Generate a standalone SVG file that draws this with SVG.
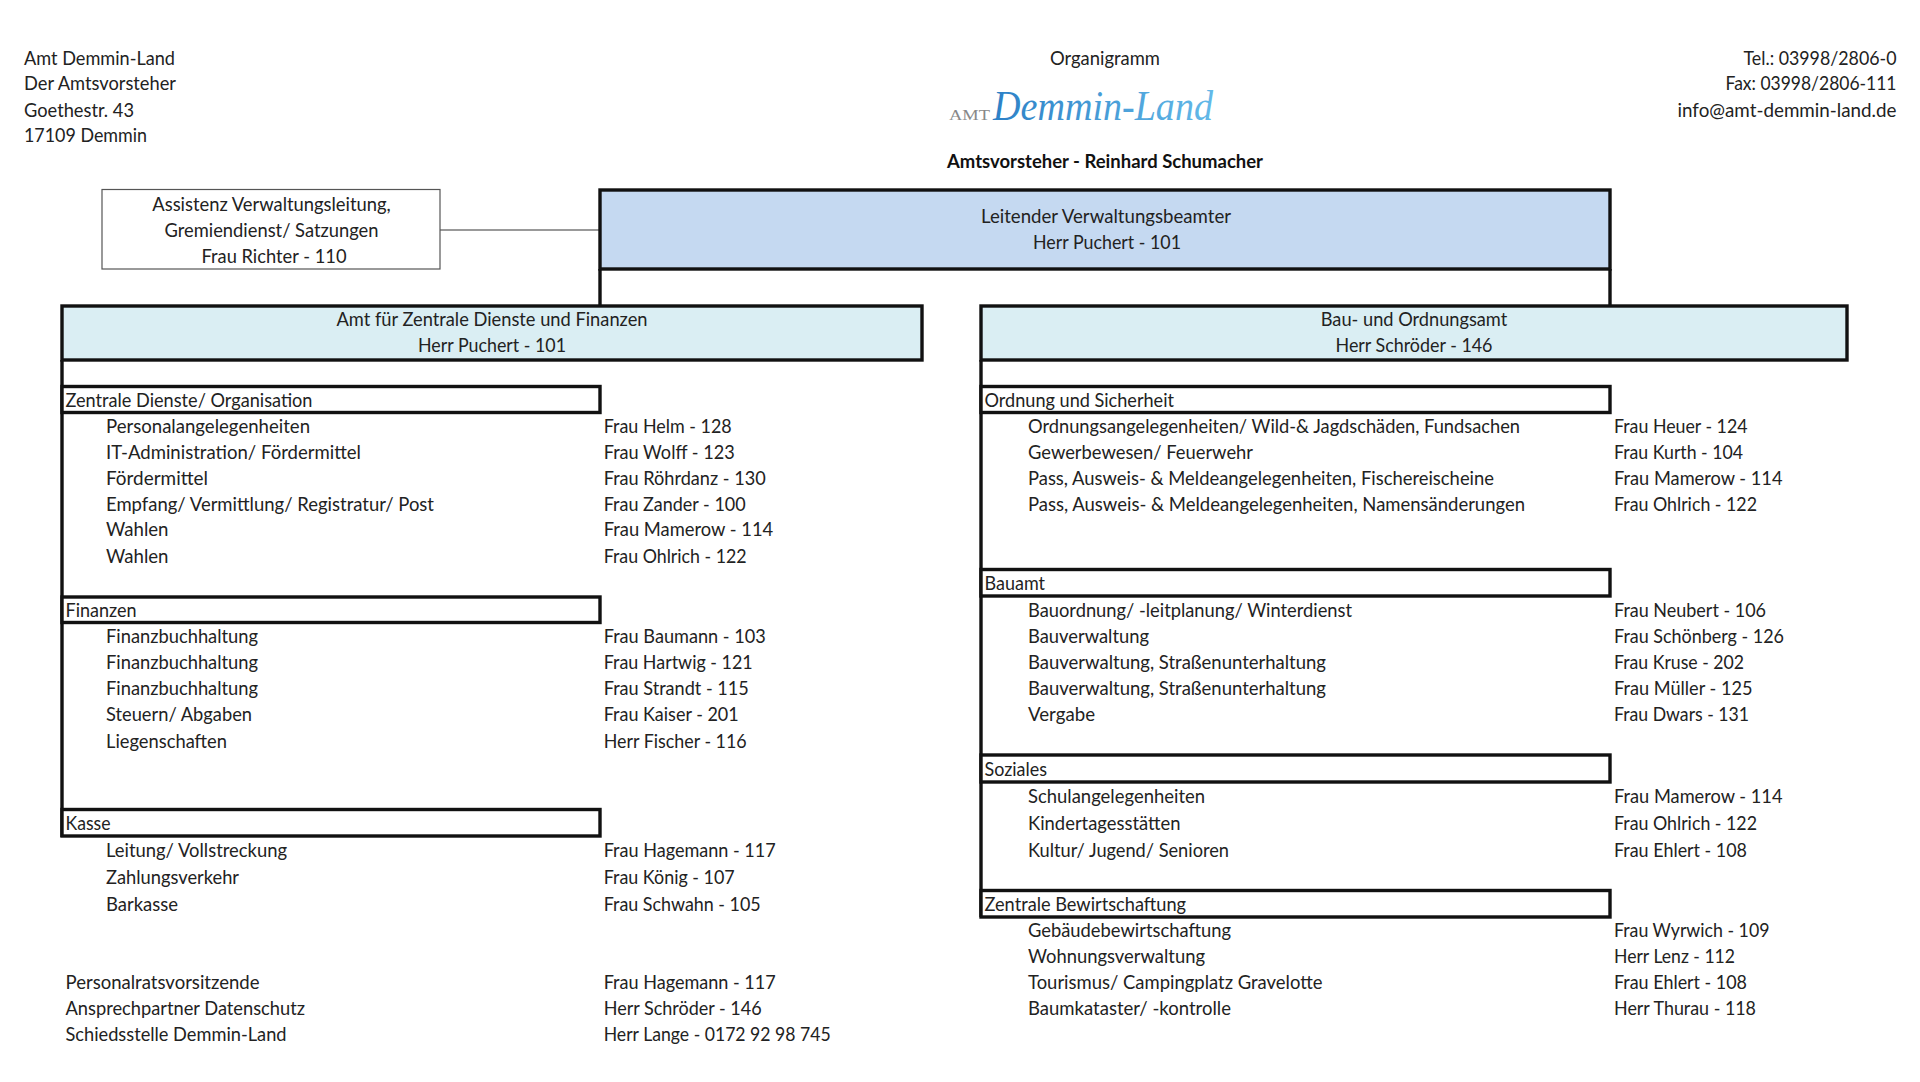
<svg xmlns="http://www.w3.org/2000/svg" width="1920" height="1082" viewBox="0 0 1920 1082">
<style>
text{font-family:"Lato","Carlito","Open Sans",sans-serif;font-size:18.300px;fill:#222}
.m{text-anchor:middle}.e{text-anchor:end}
.b{stroke:#111;stroke-width:3.400;fill:#fff}
.l{stroke:#111;stroke-width:3.400;fill:none}
</style>
<defs><linearGradient id="g" x1="0" x2="1" y1="0" y2="0"><stop offset="0" stop-color="#2c80c6"/><stop offset="1" stop-color="#63b9e8"/></linearGradient></defs>
<rect width="1920" height="1082" fill="#fff"/>
<g id="connectors">
<path d="M440 230H600" stroke="#777" stroke-width="1.300" fill="none"/>
<path class="l" d="M600 269V306M1610 269V306M62 360V837M981 360V917"/>
</g>
<g id="header-left"><text x="24" y="65" textLength="151" lengthAdjust="spacingAndGlyphs">Amt Demmin-Land</text><text x="24" y="90" textLength="152" lengthAdjust="spacingAndGlyphs">Der Amtsvorsteher</text><text x="24" y="116.500" textLength="110" lengthAdjust="spacingAndGlyphs">Goethestr. 43</text><text x="24" y="142" textLength="123" lengthAdjust="spacingAndGlyphs">17109 Demmin</text></g>
<g id="header-center"><text class="m" x="1105" y="64.500" textLength="110" lengthAdjust="spacingAndGlyphs">Organigramm</text>
<text x="949" y="120" textLength="41" lengthAdjust="spacingAndGlyphs" style="font-family:'Liberation Serif',serif;font-size:15px;fill:#888">AMT</text>
<text x="993" y="120" textLength="220" lengthAdjust="spacingAndGlyphs" style="font-family:'Liberation Serif',serif;font-style:italic;font-size:43px;fill:url(#g)">Demmin-Land</text>
<text class="m" x="1105" y="168" textLength="316" lengthAdjust="spacingAndGlyphs" style="font-weight:700;fill:#111">Amtsvorsteher - Reinhard Schumacher</text></g>
<g id="header-right"><text class="e" x="1896.500" y="65" textLength="153" lengthAdjust="spacingAndGlyphs">Tel.: 03998/2806-0</text><text class="e" x="1896.500" y="90" textLength="171" lengthAdjust="spacingAndGlyphs">Fax: 03998/2806-111</text><text class="e" x="1896.500" y="116.500" textLength="219" lengthAdjust="spacingAndGlyphs">info@amt-demmin-land.de</text></g>
<g id="assistenz"><rect x="102" y="189.500" width="338" height="79.500" fill="#fff" stroke="#555" stroke-width="1.200"/><text class="m" x="271.500" y="211" textLength="238.500" lengthAdjust="spacingAndGlyphs">Assistenz Verwaltungsleitung,</text><text class="m" x="271.500" y="236.500" textLength="214" lengthAdjust="spacingAndGlyphs">Gremiendienst/ Satzungen</text><text class="m" x="274" y="262.500" textLength="145" lengthAdjust="spacingAndGlyphs">Frau Richter - 110</text></g>
<g id="leitung"><rect class="b" x="600" y="190" width="1010" height="79" style="fill:#c5d9f1"/><text class="m" x="1106" y="223" textLength="250" lengthAdjust="spacingAndGlyphs">Leitender Verwaltungsbeamter</text><text class="m" x="1107" y="249" textLength="148" lengthAdjust="spacingAndGlyphs">Herr Puchert - 101</text></g>
<g id="amt-zentral"><rect class="b" x="62" y="306" width="860" height="54" style="fill:#daeef3"/><text class="m" x="492" y="326" textLength="311" lengthAdjust="spacingAndGlyphs">Amt für Zentrale Dienste und Finanzen</text><text class="m" x="492" y="351.500" textLength="148" lengthAdjust="spacingAndGlyphs">Herr Puchert - 101</text></g>
<g id="amt-bau"><rect class="b" x="981" y="306" width="866" height="54" style="fill:#daeef3"/><text class="m" x="1414" y="326" textLength="186.500" lengthAdjust="spacingAndGlyphs">Bau- und Ordnungsamt</text><text class="m" x="1414" y="351.500" textLength="157" lengthAdjust="spacingAndGlyphs">Herr Schröder - 146</text></g>
<g id="zentrale-dienste"><rect class="b" x="62" y="386.500" width="538" height="26"/><text x="65.500" y="407" textLength="247" lengthAdjust="spacingAndGlyphs">Zentrale Dienste/ Organisation</text></g>
<g id="finanzen"><rect class="b" x="62" y="597" width="538" height="25.500"/><text x="65.500" y="617" textLength="71" lengthAdjust="spacingAndGlyphs">Finanzen</text></g>
<g id="kasse"><rect class="b" x="62" y="809.500" width="538" height="26.500"/><text x="65.500" y="830" textLength="45" lengthAdjust="spacingAndGlyphs">Kasse</text></g>
<g id="ordnung"><rect class="b" x="981" y="386.500" width="629" height="26"/><text x="984.500" y="407" textLength="189.500" lengthAdjust="spacingAndGlyphs">Ordnung und Sicherheit</text></g>
<g id="bauamt"><rect class="b" x="981" y="569.500" width="629" height="26.500"/><text x="984.500" y="590" textLength="60.500" lengthAdjust="spacingAndGlyphs">Bauamt</text></g>
<g id="soziales"><rect class="b" x="981" y="755" width="629" height="27"/><text x="984.500" y="776" textLength="62.500" lengthAdjust="spacingAndGlyphs">Soziales</text></g>
<g id="bewirtschaftung"><rect class="b" x="981" y="890.500" width="629" height="26.500"/><text x="984.500" y="911" textLength="201.500" lengthAdjust="spacingAndGlyphs">Zentrale Bewirtschaftung</text></g>
<g id="rows-left">
<text x="106" y="432.800" textLength="204" lengthAdjust="spacingAndGlyphs">Personalangelegenheiten</text><text x="603.700" y="432.800" textLength="128" lengthAdjust="spacingAndGlyphs">Frau Helm - 128</text>
<text x="106" y="458.800" textLength="255" lengthAdjust="spacingAndGlyphs">IT-Administration/ Fördermittel</text><text x="603.700" y="458.800" textLength="131" lengthAdjust="spacingAndGlyphs">Frau Wolff - 123</text>
<text x="106" y="485" textLength="102" lengthAdjust="spacingAndGlyphs">Fördermittel</text><text x="603.700" y="485" textLength="162" lengthAdjust="spacingAndGlyphs">Frau Röhrdanz - 130</text>
<text x="106" y="510.600" textLength="328" lengthAdjust="spacingAndGlyphs">Empfang/ Vermittlung/ Registratur/ Post</text><text x="603.700" y="510.600" textLength="142" lengthAdjust="spacingAndGlyphs">Frau Zander - 100</text>
<text x="106" y="536.200" textLength="62.500" lengthAdjust="spacingAndGlyphs">Wahlen</text><text x="603.700" y="536.200" textLength="169.500" lengthAdjust="spacingAndGlyphs">Frau Mamerow - 114</text>
<text x="106" y="563.200" textLength="62.500" lengthAdjust="spacingAndGlyphs">Wahlen</text><text x="603.700" y="563.200" textLength="143" lengthAdjust="spacingAndGlyphs">Frau Ohlrich - 122</text>
<text x="106" y="643.300" textLength="152" lengthAdjust="spacingAndGlyphs">Finanzbuchhaltung</text><text x="603.700" y="643.300" textLength="162" lengthAdjust="spacingAndGlyphs">Frau Baumann - 103</text>
<text x="106" y="669" textLength="152" lengthAdjust="spacingAndGlyphs">Finanzbuchhaltung</text><text x="603.700" y="669" textLength="149" lengthAdjust="spacingAndGlyphs">Frau Hartwig - 121</text>
<text x="106" y="695.200" textLength="152" lengthAdjust="spacingAndGlyphs">Finanzbuchhaltung</text><text x="603.700" y="695.200" textLength="145" lengthAdjust="spacingAndGlyphs">Frau Strandt - 115</text>
<text x="106" y="721.400" textLength="146" lengthAdjust="spacingAndGlyphs">Steuern/ Abgaben</text><text x="603.700" y="721.400" textLength="135" lengthAdjust="spacingAndGlyphs">Frau Kaiser - 201</text>
<text x="106" y="748.400" textLength="121" lengthAdjust="spacingAndGlyphs">Liegenschaften</text><text x="603.700" y="748.400" textLength="143" lengthAdjust="spacingAndGlyphs">Herr Fischer - 116</text>
<text x="106" y="857.400" textLength="181" lengthAdjust="spacingAndGlyphs">Leitung/ Vollstreckung</text><text x="603.700" y="857.400" textLength="172" lengthAdjust="spacingAndGlyphs">Frau Hagemann - 117</text>
<text x="106" y="884.400" textLength="133" lengthAdjust="spacingAndGlyphs">Zahlungsverkehr</text><text x="603.700" y="884.400" textLength="131" lengthAdjust="spacingAndGlyphs">Frau König - 107</text>
<text x="106" y="911" textLength="72" lengthAdjust="spacingAndGlyphs">Barkasse</text><text x="603.700" y="911" textLength="157" lengthAdjust="spacingAndGlyphs">Frau Schwahn - 105</text>
<text x="65.500" y="989" textLength="194" lengthAdjust="spacingAndGlyphs">Personalratsvorsitzende</text><text x="603.700" y="989" textLength="172" lengthAdjust="spacingAndGlyphs">Frau Hagemann - 117</text>
<text x="65.500" y="1015" textLength="239.500" lengthAdjust="spacingAndGlyphs">Ansprechpartner Datenschutz</text><text x="603.700" y="1015" textLength="158" lengthAdjust="spacingAndGlyphs">Herr Schröder - 146</text>
<text x="65.500" y="1040.500" textLength="221" lengthAdjust="spacingAndGlyphs">Schiedsstelle Demmin-Land</text><text x="603.700" y="1040.500" textLength="227" lengthAdjust="spacingAndGlyphs">Herr Lange - 0172 92 98 745</text>
</g>
<g id="rows-right">
<text x="1028" y="432.800" textLength="492" lengthAdjust="spacingAndGlyphs">Ordnungsangelegenheiten/ Wild-&amp; Jagdschäden, Fundsachen</text><text x="1614" y="432.800" textLength="133.500" lengthAdjust="spacingAndGlyphs">Frau Heuer - 124</text>
<text x="1028" y="458.800" textLength="225" lengthAdjust="spacingAndGlyphs">Gewerbewesen/ Feuerwehr</text><text x="1614" y="458.800" textLength="129" lengthAdjust="spacingAndGlyphs">Frau Kurth - 104</text>
<text x="1028" y="485" textLength="466" lengthAdjust="spacingAndGlyphs">Pass, Ausweis- &amp; Meldeangelegenheiten, Fischereischeine</text><text x="1614" y="485" textLength="168.500" lengthAdjust="spacingAndGlyphs">Frau Mamerow - 114</text>
<text x="1028" y="510.600" textLength="497" lengthAdjust="spacingAndGlyphs">Pass, Ausweis- &amp; Meldeangelegenheiten, Namensänderungen</text><text x="1614" y="510.600" textLength="143" lengthAdjust="spacingAndGlyphs">Frau Ohlrich - 122</text>
<text x="1028" y="617" textLength="324" lengthAdjust="spacingAndGlyphs">Bauordnung/ -leitplanung/ Winterdienst</text><text x="1614" y="617" textLength="152" lengthAdjust="spacingAndGlyphs">Frau Neubert - 106</text>
<text x="1028" y="643.300" textLength="121" lengthAdjust="spacingAndGlyphs">Bauverwaltung</text><text x="1614" y="643.300" textLength="170" lengthAdjust="spacingAndGlyphs">Frau Schönberg - 126</text>
<text x="1028" y="669" textLength="298" lengthAdjust="spacingAndGlyphs">Bauverwaltung, Straßenunterhaltung</text><text x="1614" y="669" textLength="130" lengthAdjust="spacingAndGlyphs">Frau Kruse - 202</text>
<text x="1028" y="695.200" textLength="298" lengthAdjust="spacingAndGlyphs">Bauverwaltung, Straßenunterhaltung</text><text x="1614" y="695.200" textLength="138.500" lengthAdjust="spacingAndGlyphs">Frau Müller - 125</text>
<text x="1028" y="721.400" textLength="67" lengthAdjust="spacingAndGlyphs">Vergabe</text><text x="1614" y="721.400" textLength="135" lengthAdjust="spacingAndGlyphs">Frau Dwars - 131</text>
<text x="1028" y="803" textLength="177" lengthAdjust="spacingAndGlyphs">Schulangelegenheiten</text><text x="1614" y="803" textLength="168.500" lengthAdjust="spacingAndGlyphs">Frau Mamerow - 114</text>
<text x="1028" y="830.400" textLength="152.500" lengthAdjust="spacingAndGlyphs">Kindertagesstätten</text><text x="1614" y="830.400" textLength="143" lengthAdjust="spacingAndGlyphs">Frau Ohlrich - 122</text>
<text x="1028" y="857.400" textLength="201" lengthAdjust="spacingAndGlyphs">Kultur/ Jugend/ Senioren</text><text x="1614" y="857.400" textLength="133" lengthAdjust="spacingAndGlyphs">Frau Ehlert - 108</text>
<text x="1028" y="937.400" textLength="203" lengthAdjust="spacingAndGlyphs">Gebäudebewirtschaftung</text><text x="1614" y="937.400" textLength="155.500" lengthAdjust="spacingAndGlyphs">Frau Wyrwich - 109</text>
<text x="1028" y="963.400" textLength="177" lengthAdjust="spacingAndGlyphs">Wohnungsverwaltung</text><text x="1614" y="963.400" textLength="121" lengthAdjust="spacingAndGlyphs">Herr Lenz - 112</text>
<text x="1028" y="989" textLength="294.500" lengthAdjust="spacingAndGlyphs">Tourismus/ Campingplatz Gravelotte</text><text x="1614" y="989" textLength="133" lengthAdjust="spacingAndGlyphs">Frau Ehlert - 108</text>
<text x="1028" y="1015" textLength="203" lengthAdjust="spacingAndGlyphs">Baumkataster/ -kontrolle</text><text x="1614" y="1015" textLength="142" lengthAdjust="spacingAndGlyphs">Herr Thurau - 118</text>
</g>
</svg>
